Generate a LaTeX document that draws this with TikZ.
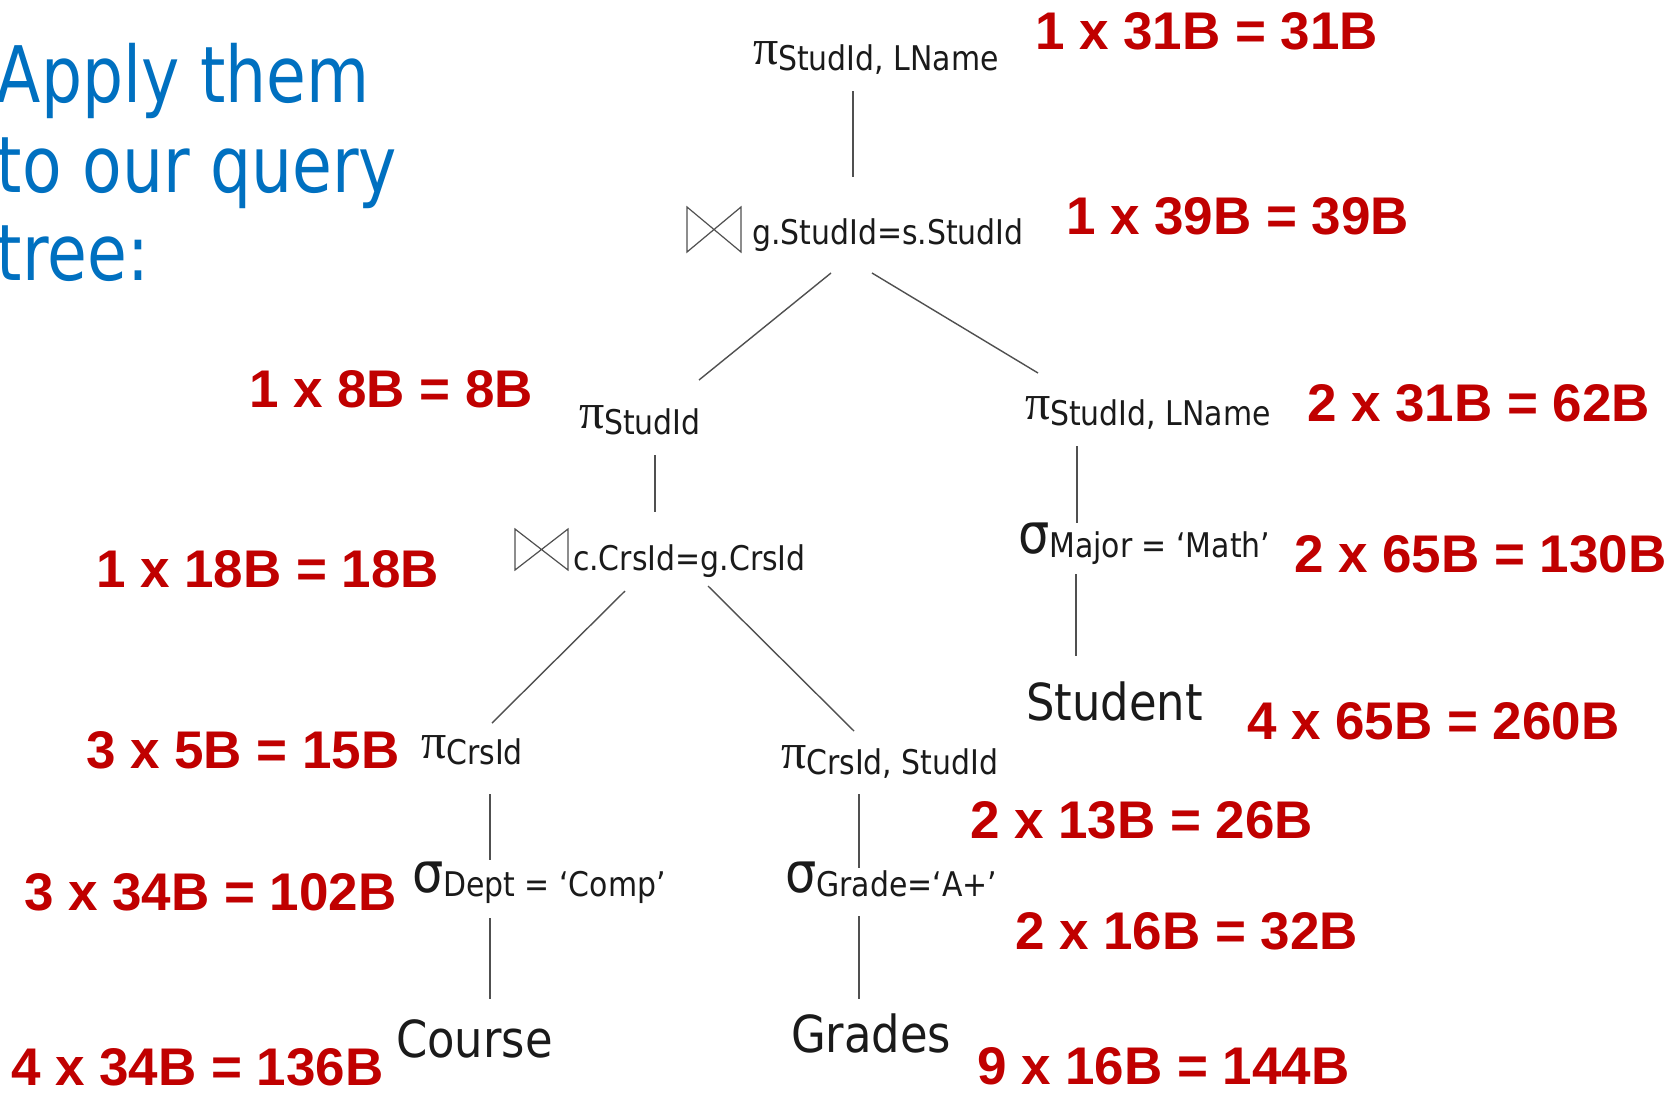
\documentclass[tikz,border=0pt]{standalone}
\usepackage{fontspec}
\newfontfamily\treefont[FakeStretch=0.88]{DejaVu Sans}
\newfontfamily\ttlfont[FakeStretch=0.83]{DejaVu Sans}
\newfontfamily\redfont{Liberation Sans}
\newfontfamily\grkserif{Liberation Serif}
\definecolor{titleblue}{HTML}{0070C0}
\definecolor{cost}{HTML}{C00000}
\definecolor{treetext}{HTML}{1A1A1A}
\definecolor{treeline}{HTML}{505050}
\newcommand\myPi[1]{\raisebox{6pt}{\grkserif\fontsize{50}{50}\selectfont π}{\treefont\fontsize{34}{40}\selectfont #1}}
\newcommand\mySig[1]{\raisebox{4pt}{\treefont\fontsize{56}{56}\selectfont σ}{\treefont\fontsize{34}{40}\selectfont #1}}
\tikzset{
  op/.style={anchor=base west, inner sep=0pt, outer sep=0pt, text=treetext},
  rel/.style={anchor=base west, inner sep=0pt, outer sep=0pt, text=treetext, font=\treefont\fontsize{51}{56}\selectfont},
  costlbl/.style={anchor=base west, inner sep=0pt, outer sep=0pt, text=cost, font=\redfont\bfseries\fontsize{53}{60}\selectfont},
  ttl/.style={anchor=base west, inner sep=0pt, outer sep=0pt, text=titleblue, font=\ttlfont\fontsize{78}{89}\selectfont},
  bowtie/.style={inner sep=0pt, outer sep=0pt, minimum width=#1, anchor=north west},
  edge/.style={draw=treeline, line width=1.4pt},
  bowline/.style={draw=treeline, line width=1.2pt}
}
\begin{document}
\begin{tikzpicture}[x=1pt,y=-1pt]
\useasboundingbox (0,0) rectangle (1680,1093);
\clip (0,0) rectangle (1680,1093);
\fill[white] (0,0) rectangle (1680,1093);
% title
\node[ttl] (t1) at (-3,102) {Apply them};
\node[ttl] (t2) at (-3,192) {to our query};
\node[ttl] (t3) at (-3,280) {tree:};
% tree nodes
\node[op] (p1) at (753,70) {\myPi{StudId, LName}};
\node[bowtie=54pt, minimum height=45pt] (b1) at (687,207) {};
\node[op, font=\treefont\fontsize{34}{40}\selectfont] (j1) at (752,244) {g.StudId=s.StudId};
\node[op] (p2) at (579,434) {\myPi{StudId}};
\node[bowtie=53pt, minimum height=41pt] (b2) at (515,529) {};
\node[op, font=\treefont\fontsize{34}{40}\selectfont] (j2) at (573,570) {c.CrsId=g.CrsId};
\node[op] (p3) at (421,764) {\myPi{CrsId}};
\node[op] (s1) at (412,896) {\mySig{Dept = ‘Comp’}};
\node[rel] (course) at (396,1057) {Course};
\node[op] (p4) at (781,774) {\myPi{CrsId, StudId}};
\node[op] (s2) at (785,896) {\mySig{Grade=‘A+’}};
\node[rel] (grades) at (791,1052) {Grades};
\node[op] (p5) at (1025,425) {\myPi{StudId, LName}};
\node[op] (s3) at (1018,557) {\mySig{Major = ‘Math’}};
\node[rel] (student) at (1026,720) {Student};
% bowtie symbols
\draw[bowline] (b1.north west) -- (b1.south west) -- (b1.north east) -- (b1.south east) -- cycle;
\draw[bowline] (b2.north west) -- (b2.south west) -- (b2.north east) -- (b2.south east) -- cycle;
% connector ends
\coordinate (p1-s) at (853,91);   \coordinate (j1-n) at (853,177);
\coordinate (j1-sl) at (831,273); \coordinate (p2-n) at (699,380);
\coordinate (j1-sr) at (872,273); \coordinate (p5-n) at (1038,373);
\coordinate (p2-s) at (655,455);  \coordinate (j2-n) at (655,512);
\coordinate (j2-sl) at (625,591); \coordinate (p3-n) at (492,723);
\coordinate (j2-sr) at (708,586); \coordinate (p4-n) at (854,731);
\coordinate (p3-s) at (490,794);  \coordinate (s1-n) at (490,860);
\coordinate (s1-s) at (490,918);  \coordinate (course-n) at (490,999);
\coordinate (p4-s) at (859,794);  \coordinate (s2-n) at (859,868);
\coordinate (s2-s) at (859,916);  \coordinate (grades-n) at (859,999);
\coordinate (p5-s) at (1077,446); \coordinate (s3-n) at (1077,523);
\coordinate (s3-s) at (1076,574); \coordinate (student-n) at (1076,656);
\draw[edge] (p1-s) -- (j1-n);
\draw[edge] (j1-sl) -- (p2-n);
\draw[edge] (j1-sr) -- (p5-n);
\draw[edge] (p2-s) -- (j2-n);
\draw[edge] (j2-sl) -- (p3-n);
\draw[edge] (j2-sr) -- (p4-n);
\draw[edge] (p3-s) -- (s1-n);
\draw[edge] (s1-s) -- (course-n);
\draw[edge] (p4-s) -- (s2-n);
\draw[edge] (s2-s) -- (grades-n);
\draw[edge] (p5-s) -- (s3-n);
\draw[edge] (s3-s) -- (student-n);
% cost labels
\node[costlbl] (r1) at (1035,49) {1 x 31B = 31B};
\node[costlbl] (r2) at (1066,234) {1 x 39B = 39B};
\node[costlbl] (r3) at (249,407) {1 x 8B = 8B};
\node[costlbl] (r4) at (1307,421) {2 x 31B = 62B};
\node[costlbl] (r5) at (96,587) {1 x 18B = 18B};
\node[costlbl] (r6) at (1294,572) {2 x 65B = 130B};
\node[costlbl] (r7) at (1247,739) {4 x 65B = 260B};
\node[costlbl] (r8) at (86,768) {3 x 5B = 15B};
\node[costlbl] (r9) at (970,838) {2 x 13B = 26B};
\node[costlbl] (r10) at (24,910) {3 x 34B = 102B};
\node[costlbl] (r11) at (1015,949) {2 x 16B = 32B};
\node[costlbl, text depth=0pt] (r12) at (11,1085) {4 x 34B = 136B};
\node[costlbl, text depth=0pt] (r13) at (977,1084) {9 x 16B = 144B};
\end{tikzpicture}
\end{document}
